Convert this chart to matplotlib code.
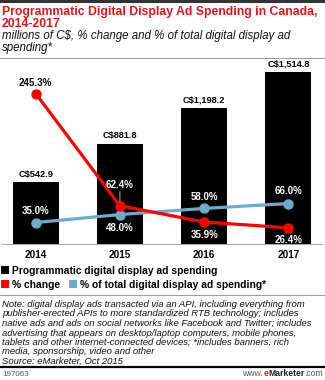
import matplotlib
matplotlib.use("Agg")
import matplotlib.pyplot as plt
from matplotlib.patches import Rectangle
from matplotlib.lines import Line2D

plt.rcParams['font.family'] = ['Liberation Sans', 'DejaVu Sans']

# data
years = ['2014', '2015', '2016', '2017']
spending = [542.9, 881.8, 1198.2, 1514.8]
spend_labels = ['C$542.9', 'C$881.8', 'C$1,198.2', 'C$1,514.8']
pct_change = [245.3, 62.4, 35.9, 26.4]
pct_total = [35.0, 48.0, 58.0, 66.0]

RED = '#ff0000'
TITLE_RED = '#e3131b'
BLUE = '#6eabcb'

W, H = 325, 380
fig = plt.figure(figsize=(W / 100, H / 100), dpi=100)


def fx(px):
    return px / W


def fy(py):
    return 1 - py / H


# header rules and titles
fig.add_artist(Line2D([0, 1], [fy(1), fy(1)], color='#333333', lw=2.2))
fig.add_artist(Line2D([0, 1], [fy(58), fy(58)], color='#999999', lw=0.7))
fig.text(fx(2), fy(15.5), 'Programmatic Digital Display Ad Spending in Canada,',
         color=TITLE_RED, fontsize=8.85, fontweight='bold', va='baseline')
fig.text(fx(2), fy(27), '2014-2017', color=TITLE_RED, fontsize=8.85,
         fontweight='bold', va='baseline')
fig.text(fx(2), fy(39.5), 'millions of C$, % change and % of total digital display ad',
         color='#111111', fontsize=8.3, style='italic', va='baseline')
fig.text(fx(2), fy(51.5), 'spending*', color='#111111', fontsize=8.3,
         style='italic', va='baseline')

# chart area
ax = fig.add_axes([fx(2), fy(244), 320 / W, 184 / H])
x = list(range(len(years)))
bars = ax.bar(x, spending, width=0.55, color='black')
ax.set_xlim(-0.4, 3.4)
ax.set_ylim(0, 1622)
for b, lab in zip(bars, spend_labels):
    ax.annotate(lab, (b.get_x() + b.get_width() / 2, b.get_height()),
                xytext=(0, 2.5), textcoords='offset points', ha='center',
                va='bottom', fontsize=6.6, fontweight='bold')
ax.set_yticks([])
ax.set_xticks(x)
ax.set_xticklabels(years, fontsize=7.2, fontweight='bold')
ax.tick_params(axis='x', length=0, pad=4)
for s in ['top', 'left', 'right']:
    ax.spines[s].set_visible(False)
ax.spines['bottom'].set_color('#aaaaaa')
ax.spines['bottom'].set_linewidth(0.8)

ax2 = ax.twinx()
ax2.set_ylim(0, 300)
ax2.axis('off')
ax2.plot(x, pct_total, color=BLUE, lw=2.3, marker='o', ms=6.5, zorder=3)
ax2.plot(x, pct_change, color=RED, lw=2.3, marker='o', ms=6.5, zorder=4)

# point labels: (offset in px, colour)
red_offsets = [(11, 'black'), (21, 'white'), (-13, 'white'), (-12, 'white')]
blue_offsets = [(12, 'white'), (-13, 'white'), (11, 'white'), (13, 'white')]
for i, v in enumerate(pct_change):
    off, c = red_offsets[i]
    ax2.annotate('%.1f%%' % v, (i, v), xytext=(0, off * 0.72),
                 textcoords='offset points', ha='center', va='center',
                 fontsize=7.0, fontweight='bold', color=c, zorder=6)
for i, v in enumerate(pct_total):
    off, c = blue_offsets[i]
    ax2.annotate('%.1f%%' % v, (i, v), xytext=(0, off * 0.72),
                 textcoords='offset points', ha='center', va='center',
                 fontsize=7.0, fontweight='bold', color=c, zorder=6)
# leader for the 2015 change label
ax2.annotate('', (1, pct_change[1]), xytext=(0, 14 * 0.72),
             textcoords='offset points',
             arrowprops=dict(arrowstyle='-', color='#999999', lw=0.8,
                             shrinkA=0, shrinkB=3), zorder=5)

# legend
def swatch(px, py, color):
    fig.add_artist(Rectangle((fx(px), fy(py + 8)), 8 / W, 8 / H,
                             transform=fig.transFigure, color=color, lw=0))


swatch(1, 266, 'black')
fig.text(fx(12), fy(273.5), 'Programmatic digital display ad spending',
         fontsize=7.4, fontweight='bold', va='baseline')
swatch(1, 280, RED)
fig.text(fx(12), fy(287.5), '% change', fontsize=7.4, fontweight='bold', va='baseline')
swatch(69, 280, BLUE)
fig.text(fx(80), fy(287.5), '% of total digital display ad spending*',
         fontsize=7.4, fontweight='bold', va='baseline')

fig.add_artist(Line2D([0, 1], [fy(295), fy(295)], color='#999999', lw=0.7))

note = ['Note: digital display ads transacted via an API, including everything from',
        'publisher-erected APIs to more standardized RTB technology; includes',
        'native ads and ads on social networks like Facebook and Twitter; includes',
        'advertising that appears on desktop/laptop computers, mobile phones,',
        'tablets and other internet-connected devices; *includes banners, rich',
        'media, sponsorship, video and other',
        'Source: eMarketer, Oct 2015']
for k, line in enumerate(note):
    fig.text(fx(2), fy(307 + 9.5 * k), line, fontsize=6.8, style='italic',
             va='baseline', color='#111111')

# footer
fig.add_artist(Line2D([0, 1], [fy(367), fy(367)], color='black', lw=1.6))
fig.text(fx(2), fy(376.5), '197063', fontsize=5.8, color='#555555', va='baseline')
t_com = fig.text(fx(323), fy(376.5), '.com', fontsize=6.2, color='#555555',
                 ha='right', va='baseline')
fig.canvas.draw()
r = fig.canvas.get_renderer()
bb = t_com.get_window_extent(r)
t_mk = fig.text(bb.x0 / W, fy(376.5), 'Marketer', fontsize=6.2, fontweight='bold',
                color='#222222', ha='right', va='baseline')
bb = t_mk.get_window_extent(r)
t_e = fig.text(bb.x0 / W, fy(376.5), 'e', fontsize=6.2, fontweight='bold',
               color=TITLE_RED, ha='right', va='baseline')
bb = t_e.get_window_extent(r)
fig.text(bb.x0 / W, fy(376.5), 'www.', fontsize=6.2, color='#555555',
         ha='right', va='baseline')

fig.savefig('out.png', dpi=100)
